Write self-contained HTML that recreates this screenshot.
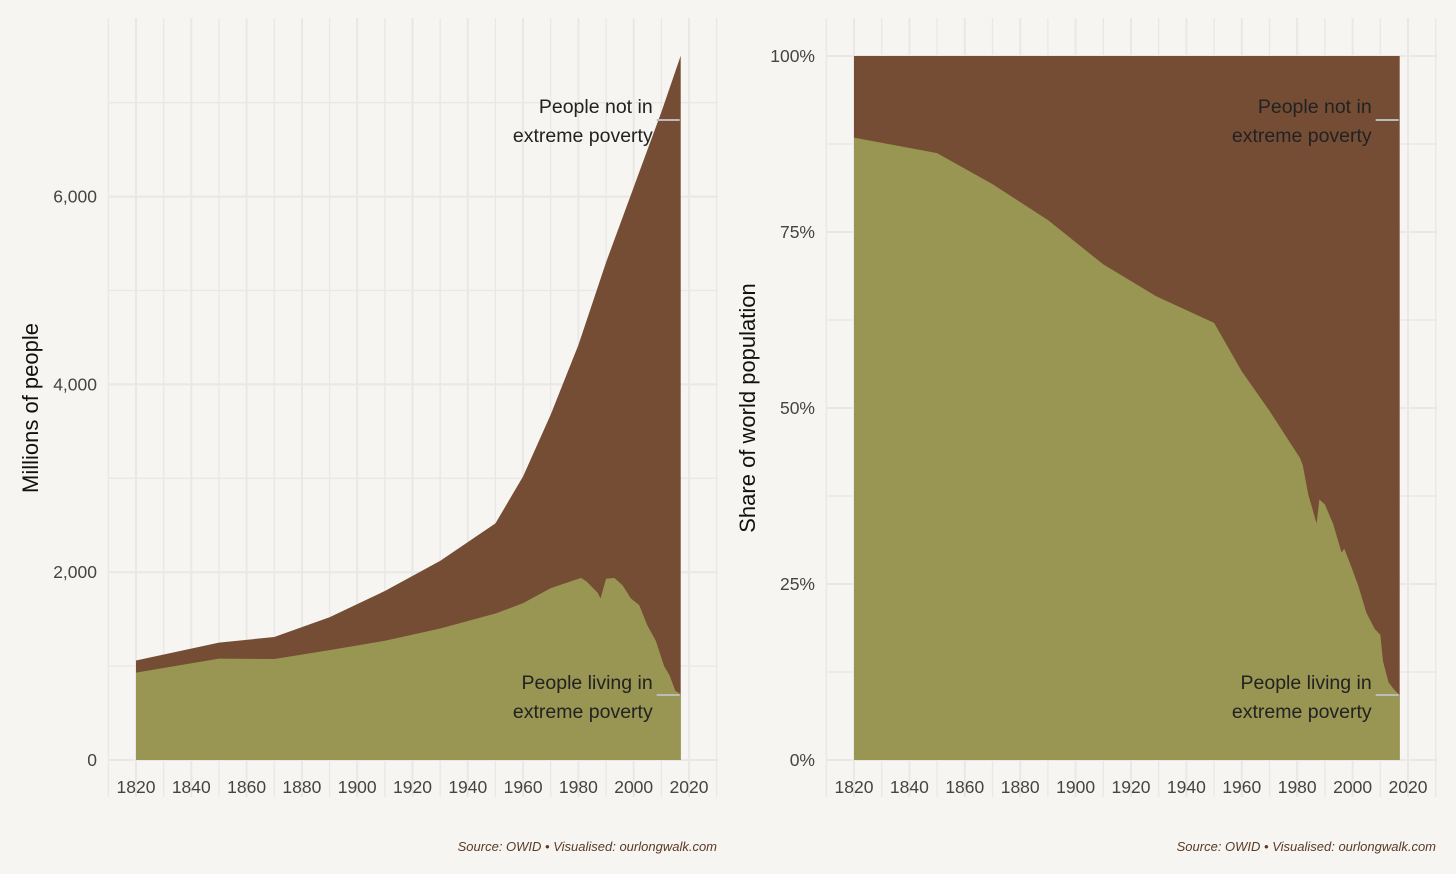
<!DOCTYPE html>
<html><head><meta charset="utf-8"><style>
body{margin:0;background:#f6f5f1;}
svg{display:block;font-family:"Liberation Sans",sans-serif;}
</style></head><body>
<svg id="c" width="1456" height="874"></svg>
<script>
const years=[1820,1850,1870,1890,1910,1930,1950,1960,1970,1980,1990,2000,2010,2017];
const totalPop=[1060,1250,1310,1520,1800,2120,2520,3020,3680,4420,5300,6100,6900,7500];
const povYears=[1820,1850,1870,1890,1910,1930,1950,1960,1970,1981,1983,1984,1987,1988,1990,1993,1996,1999,2002,2005,2008,2011,2013,2015,2017];
const povPop=[930,1080,1075,1170,1270,1400,1560,1670,1830,1940,1900,1870,1780,1720,1930,1940,1860,1720,1650,1430,1270,1000,900,740,700];
const shareYears=[1820,1850,1870,1890,1910,1929,1950,1960,1970,1981,1982,1984,1987,1988,1990,1993,1996,1997,1999,2002,2005,2008,2010,2011,2013,2015,2017];
const sharePov=[88.4,86.2,81.8,76.7,70.4,65.9,62.1,55.2,49.6,42.9,41.9,37.7,33.6,37,36.3,33.5,29.5,30,28,24.8,20.9,18.6,17.8,14,11,10,9.2];
const leftYTicks=[0,2000,4000,6000];
const leftYLabels=["0","2,000","4,000","6,000"];
const rightYTicks=[0,25,50,75,100];
const rightYLabels=["0%","25%","50%","75%","100%"];
const xTicks=[1820,1840,1860,1880,1900,1920,1940,1960,1980,2000,2020];

const svg=document.getElementById('c');
const NS='http://www.w3.org/2000/svg';
function mk(t,a,p){const e=document.createElementNS(NS,t);for(const k in a)e.setAttribute(k,a[k]);(p||svg).appendChild(e);return e;}
const BROWN='#754d34',OLIVE='#999552',GRID='#e9e8e6';

function panel(o){
  const g=mk('g',{});
  
  
  const x=v=>o.x0+(v-1820)*o.xs;
  const y=v=>760-v*o.ys;
  for(let yr=1810;yr<=2030;yr+=10){const gl=mk('line',{x1:x(yr),x2:x(yr),y1:18,y2:797,stroke:GRID,'stroke-width':yr%20==0?2:1.3},g);}
  o.minor.forEach(v=>{const gl=mk('line',{x1:o.gx0,x2:o.gx1,y1:y(v),y2:y(v),stroke:GRID,'stroke-width':1.3},g);});
  o.yt.forEach((v,i)=>{const gl=mk('line',{x1:o.gx0,x2:o.gx1,y1:y(v),y2:y(v),stroke:GRID,'stroke-width':2},g);
    const t=mk('text',{x:o.lx,y:y(v)+6,'text-anchor':'end','font-size':17.5,fill:'#444'},g);t.textContent=o.yl[i];});
  xTicks.forEach(v=>{const t=mk('text',{x:x(v),y:793,'text-anchor':'middle','font-size':17.5,fill:'#444'},g);t.textContent=v;});
  let d='M'+x(o.ty[0])+','+y(o.tv[0]);
  for(let i=1;i<o.ty.length;i++)d+='L'+x(o.ty[i])+','+y(o.tv[i]);
  d+='L'+x(o.ty[o.ty.length-1])+',760L'+x(o.ty[0])+',760Z';
  const a1=mk('path',{d:d,fill:BROWN},g);
  let d2='M'+x(o.py[0])+',760';
  for(let i=0;i<o.py.length;i++)d2+='L'+x(o.py[i])+','+y(o.pv[i]);
  d2+='L'+x(o.py[o.py.length-1])+',760Z';
  const a2=mk('path',{d:d2,fill:OLIVE},g);
  const ex=x(2017);
  [[106,135,120,'People not in','label-not-in-poverty'],[682,711,695,'People living in','label-extreme-poverty']].forEach(L=>{
    const ln=mk('line',{x1:ex-24,x2:ex-1,y1:L[2],y2:L[2],stroke:'#bbb','stroke-width':2},g);
    const t=mk('text',{x:ex-28,y:L[0]+7,'text-anchor':'end','font-size':19.5,fill:'#222'},g);t.textContent=L[3];
    const t2=mk('text',{x:ex-28,y:L[1]+7,'text-anchor':'end','font-size':19.5,fill:'#222'},g);t2.textContent='extreme poverty';
  });
  const at=mk('text',{x:0,y:0,'text-anchor':'middle','font-size':22,fill:'#111',transform:`translate(${o.tx},408) rotate(-90)`},g);at.textContent=o.title;
  const s=mk('text',{x:o.gx1-1,y:851,'text-anchor':'end','font-size':13,'font-style':'italic',fill:'#5b3a26'},g);s.textContent='Source: OWID • Visualised: ourlongwalk.com';
}
panel({name:'left-panel-millions',x0:136,xs:2.765,ys:0.0939,gx0:108,gx1:718,lx:97,tx:38,yt:leftYTicks,yl:leftYLabels,minor:[1000,3000,5000,7000],
  ty:years,tv:totalPop,py:povYears,pv:povPop,title:'Millions of people'});
panel({name:'right-panel-share',x0:854,xs:2.77,ys:7.04,gx0:826,gx1:1437,lx:815,tx:755,yt:rightYTicks,yl:rightYLabels,minor:[12.5,37.5,62.5,87.5],
  ty:[1820,2017],tv:[100,100],py:shareYears,pv:sharePov,title:'Share of world population'});
</script>
</body></html>
